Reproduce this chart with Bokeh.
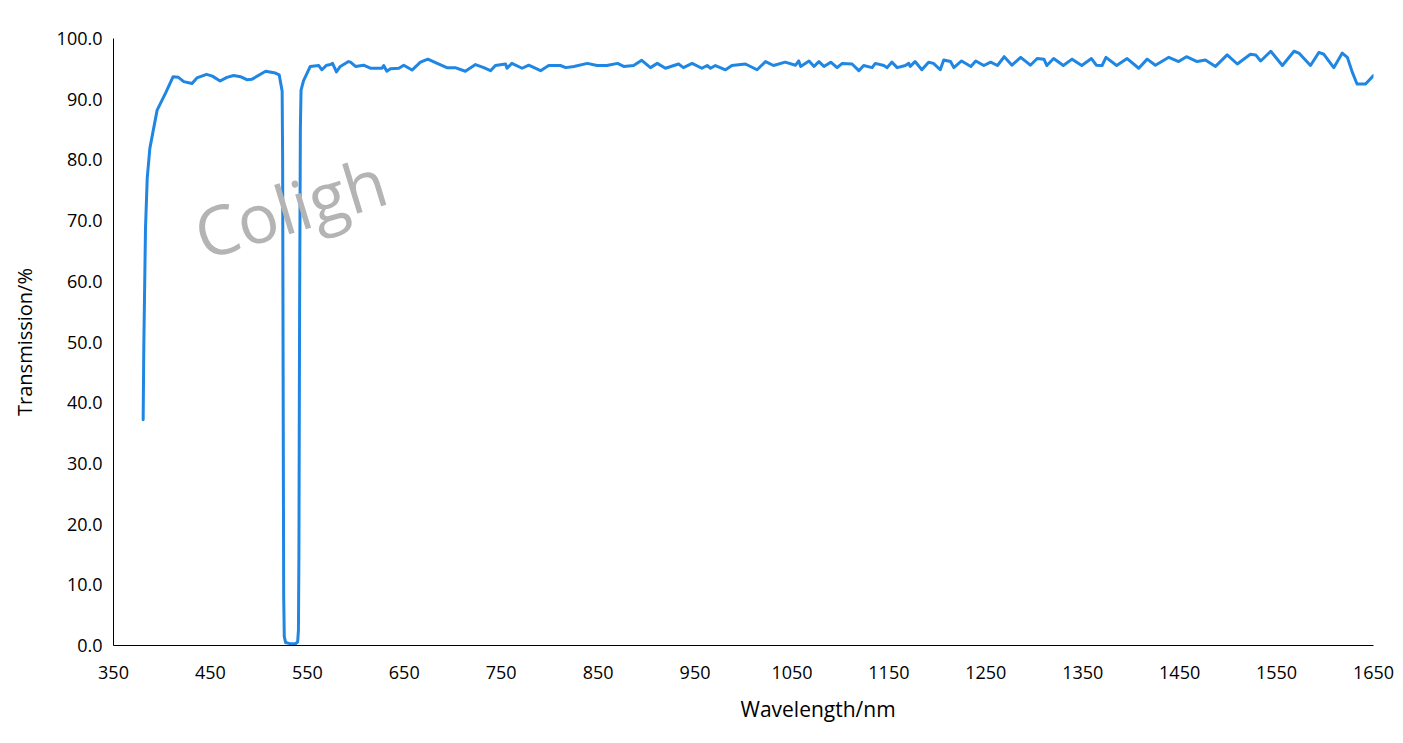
from bokeh.plotting import figure
from bokeh.models import ColumnDataSource, FixedTicker, NumeralTickFormatter, Label, Range1d, Title
from bokeh.embed import file_html
from bokeh.resources import INLINE

wavelength = [380.6, 381.3, 383, 384.8, 387.5, 395, 403.7, 411.5, 417, 422.5, 431, 436, 446, 452, 460,
              467, 474, 481, 488, 493, 507, 517, 521, 524, 524.5, 525, 525.6, 526.2, 527.5, 532, 538,
              540, 540.8, 541.3, 542, 542.8, 543.5, 546, 553, 561.8, 565, 570, 574, 576, 580, 584, 592.5,
              594.5, 599.7, 608, 615, 627, 628.8, 632, 635.8, 644.4, 649.5, 658, 666.7, 674.3, 684,
              694, 702.6, 713, 723.5, 732, 739, 744, 754.5, 756, 761, 771.6, 778.4, 790.6, 799, 811,
              816.6, 825, 838.8, 849, 859, 870, 876.4, 886.6, 895, 904, 911, 919.5, 933, 938, 947, 957,
              962.5, 966, 971, 981.5, 988, 1002, 1014, 1022.7, 1031, 1043, 1053.7, 1057, 1059, 1067.6,
              1072.8, 1077.8, 1083, 1090, 1096.6, 1101.9, 1112, 1119, 1124, 1132.7, 1136, 1144.8, 1148,
              1153, 1158.6, 1167, 1170.5, 1172, 1177, 1184, 1191, 1196, 1203, 1206.6, 1213.6, 1217,
              1225, 1234.6, 1239.6, 1248, 1255, 1262, 1269, 1277, 1286, 1296, 1303, 1310, 1313, 1320,
              1330, 1339, 1349, 1359, 1364, 1370, 1374, 1385, 1395.8, 1407.8, 1416.5, 1425, 1438.8,
              1449, 1457, 1468, 1476.6, 1487, 1499, 1509.5, 1523, 1528.4, 1533.6, 1544, 1556, 1568,
              1573, 1585, 1593.6, 1598.8, 1609, 1617.8, 1623, 1628, 1633, 1641.8, 1650]
transmission = [37.2, 49.5, 68.7, 77.0, 81.9, 88.2, 91.0, 93.7, 93.6, 92.9, 92.6, 93.5, 94.1, 93.8, 93.0,
                93.6, 93.9, 93.7, 93.2, 93.3, 94.6, 94.3, 94.0, 91.3, 80.0, 45.0, 8.0, 1.5, 0.5, 0.3, 0.3,
                0.6, 2.5, 15.0, 55.0, 85.0, 91.5, 93.0, 95.4, 95.55, 94.85, 95.6, 95.7, 95.9, 94.5, 95.4, 96.2,
                96.1, 95.4, 95.6, 95.1, 95.1, 95.55, 94.6, 95.0, 95.1, 95.6, 94.8, 96.1, 96.6, 95.9,
                95.2, 95.2, 94.6, 95.7, 95.2, 94.7, 95.55, 95.8, 95.1, 95.9, 95.1, 95.6, 94.7, 95.55, 95.55,
                95.2, 95.4, 95.9, 95.55, 95.55, 95.9, 95.4, 95.55, 96.4, 95.2, 95.9, 95.1, 95.8, 95.2, 95.9, 95.1,
                95.55, 95.1, 95.55, 94.85, 95.55, 95.8, 94.85, 96.2, 95.55, 96.1, 95.6, 96.3, 95.4, 96.3,
                95.4, 96.2, 95.4, 96.1, 95.2, 95.9, 95.8, 94.7, 95.55, 95.2, 95.9, 95.55, 95.2,
                96.1, 95.2, 95.55, 95.9, 95.4, 96.2, 94.85, 96.1, 95.9, 94.85, 96.45, 96.2, 95.2,
                96.3, 95.4, 96.3, 95.55, 96.1, 95.55, 97.0, 95.6, 96.9, 95.6, 96.7, 96.6, 95.55, 96.7,
                95.55, 96.6, 95.55, 96.7, 95.6, 95.55, 96.9, 95.55, 96.7, 95.1, 96.6, 95.6, 96.9,
                96.2, 97.0, 96.2, 96.45, 95.4, 97.3, 95.8, 97.4, 97.3, 96.3, 97.9, 95.55, 97.9,
                97.6, 95.55, 97.7, 97.4, 95.2, 97.6, 96.9, 94.5, 92.5, 92.5, 93.9]

x_ticks = [350, 450, 550, 650, 750, 850, 950, 1050, 1150, 1250, 1350, 1450, 1550, 1650]
y_ticks = [0, 10, 20, 30, 40, 50, 60, 70, 80, 90, 100]
x_title = "Wavelength/nm"
y_title = "Transmission/%"
watermark = "Coligh"

FONT = "Open Sans"

p = figure(width=1398, height=740, output_backend="svg", toolbar_location=None,
           x_range=Range1d(350, 1650), y_range=Range1d(0, 100),
           min_border_left=113, min_border_right=25, min_border_top=38, min_border_bottom=95)
p.outline_line_color = None
p.background_fill_color = "white"
p.border_fill_color = "white"
p.xgrid.grid_line_color = None
p.ygrid.grid_line_color = None

src = ColumnDataSource(data=dict(x=wavelength, y=transmission))
p.line("x", "y", source=src, line_color="#1f86e4", line_width=3, line_join="round", line_cap="round")

for ax in (p.xaxis[0], p.yaxis[0]):
    ax.major_tick_out = 0
    ax.major_tick_in = 0
    ax.minor_tick_out = 0
    ax.minor_tick_in = 0
    ax.axis_line_color = "#000000"
    ax.axis_line_width = 1
    ax.major_label_text_font = FONT
    ax.major_label_text_font_size = "18px"
    ax.major_label_text_color = "#000000"

p.xaxis.ticker = FixedTicker(ticks=x_ticks)
p.yaxis.ticker = FixedTicker(ticks=y_ticks)
p.yaxis.formatter = NumeralTickFormatter(format="0.0")
p.xaxis.major_label_standoff = 20
p.yaxis.major_label_standoff = 11

p.yaxis.axis_label = y_title
p.yaxis.axis_label_text_font = FONT
p.yaxis.axis_label_text_font_size = "20px"
p.yaxis.axis_label_text_font_style = "normal"
p.yaxis.axis_label_text_color = "#000000"
p.yaxis.axis_label_standoff = 16

p.add_layout(Title(text=x_title, align="left", offset=627, standoff=23,
                   text_font=FONT, text_font_size="21px", text_font_style="normal",
                   text_color="#000000"), "below")

p.add_layout(Label(x=435, y=67.6, text=watermark, angle=17, angle_units="deg",
                   text_align="left", text_baseline="alphabetic",
                   text_font=FONT, text_font_size="68px", text_color="#b4b4b4"))

open("out.html", "w").write(file_html(p, INLINE))
